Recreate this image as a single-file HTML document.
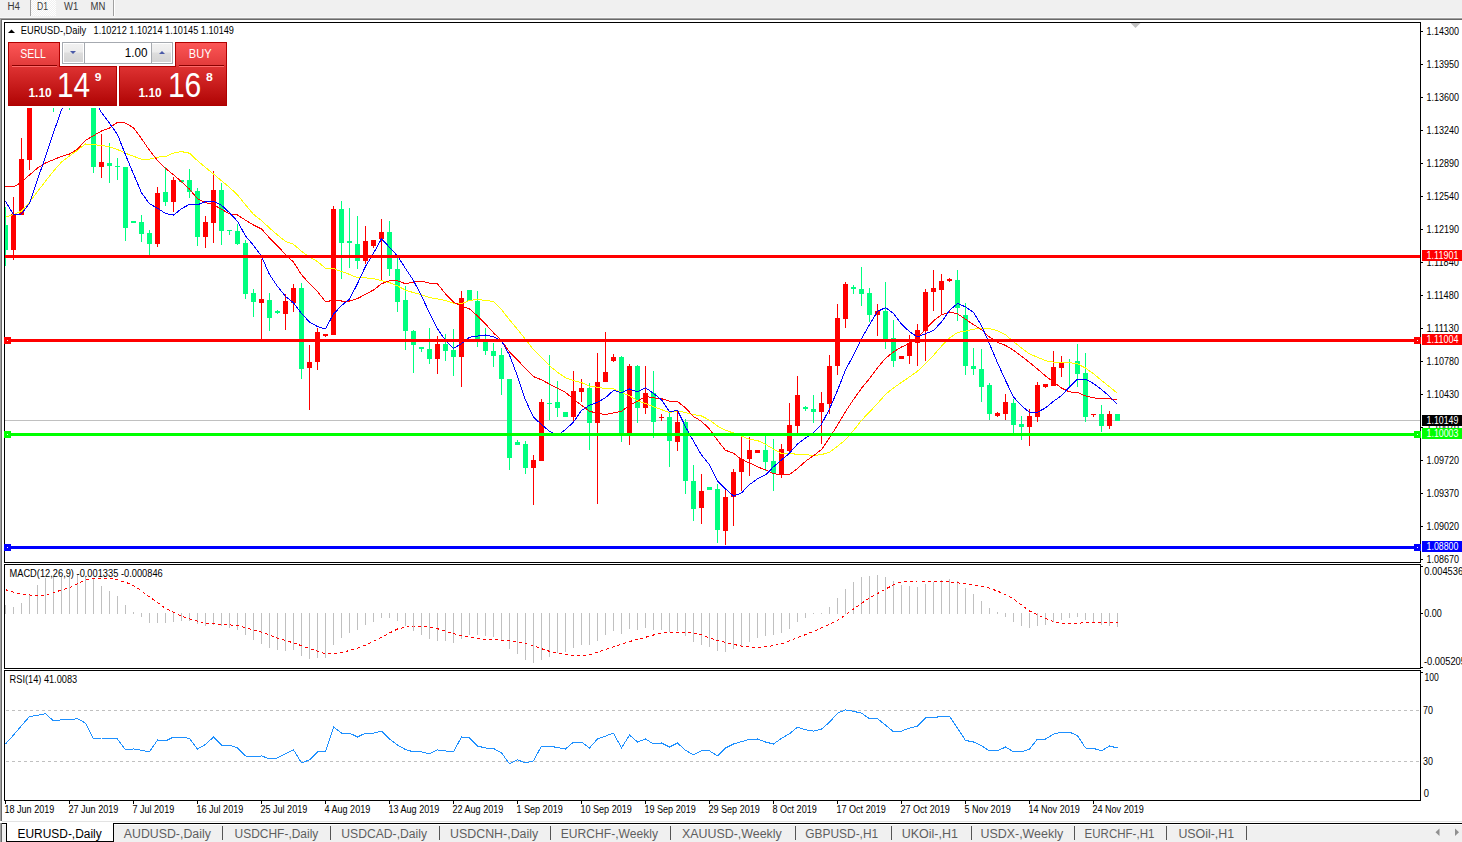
<!DOCTYPE html>
<html><head><meta charset="utf-8"><title>EURUSD-,Daily</title><style>html,body{margin:0;padding:0;background:#fff;width:1462px;height:842px;overflow:hidden}text{white-space:pre}</style></head><body>
<svg width="1462" height="842" viewBox="0 0 1462 842" font-family='"Liberation Sans", Arial, sans-serif' shape-rendering="crispEdges" style="display:block">
<defs>
<clipPath id="cpMain"><rect x="5" y="23" width="1415" height="539"/></clipPath>
<clipPath id="cpMacd"><rect x="5" y="565" width="1415" height="103"/></clipPath>
<clipPath id="cpRsi"><rect x="5" y="671" width="1415" height="129"/></clipPath>
<linearGradient id="gTab" gradientUnits="userSpaceOnUse" x1="0" y1="43" x2="0" y2="65"><stop offset="0" stop-color="#fc5656"/><stop offset="1" stop-color="#e33b3b"/></linearGradient>
<linearGradient id="gPanel" gradientUnits="userSpaceOnUse" x1="0" y1="66" x2="0" y2="105"><stop offset="0" stop-color="#df3333"/><stop offset="1" stop-color="#b00404"/></linearGradient>
<linearGradient id="gBtn" x1="0" y1="0" x2="0" y2="1"><stop offset="0" stop-color="#f2f2f2"/><stop offset="0.45" stop-color="#ebebeb"/><stop offset="0.5" stop-color="#dddddd"/><stop offset="1" stop-color="#d4d4d4"/></linearGradient>
<pattern id="pDot" width="2" height="2" patternUnits="userSpaceOnUse"><rect width="2" height="2" fill="#f0f0f0"/><rect width="1" height="1" fill="#ffffff"/><rect x="1" y="1" width="1" height="1" fill="#ffffff"/></pattern>
</defs>
<rect x="0" y="0" width="1462" height="842" fill="#ffffff"/>
<rect x="0" y="0" width="1462" height="17" fill="#f0f0f0"/>
<rect x="0" y="17" width="1462" height="1" fill="#f7f7f7"/>
<rect x="0" y="18" width="1462" height="1" fill="#a0a0a0"/>
<rect x="0" y="19" width="1462" height="1" fill="#696969"/>
<rect x="31" y="0" width="25" height="16" fill="url(#pDot)"/>
<rect x="30" y="0" width="1" height="16" fill="#a0a0a0"/>
<rect x="113" y="0" width="1" height="16" fill="#a0a0a0"/>
<rect x="114" y="0" width="1" height="16" fill="#ffffff"/>
<text x="7.50" y="10" font-size="10" fill="#3a3a3a" font-weight="normal" textLength="12.48" lengthAdjust="spacingAndGlyphs">H4</text>
<text x="37.00" y="10" font-size="10" fill="#3a3a3a" font-weight="normal" textLength="10.99" lengthAdjust="spacingAndGlyphs">D1</text>
<text x="64.00" y="10" font-size="10" fill="#3a3a3a" font-weight="normal" textLength="14.20" lengthAdjust="spacingAndGlyphs">W1</text>
<text x="90.50" y="10" font-size="10" fill="#3a3a3a" font-weight="normal" textLength="14.80" lengthAdjust="spacingAndGlyphs">MN</text>
<rect x="0" y="18" width="1" height="803" fill="#a0a0a0"/>
<rect x="1" y="19" width="1" height="802" fill="#696969"/>
<g fill="none" stroke="#000" stroke-width="1">
<rect x="4.5" y="22.5" width="1416" height="540"/>
<rect x="4.5" y="564.5" width="1416" height="104"/>
<rect x="4.5" y="670.5" width="1416" height="130"/>
</g>
<g clip-path="url(#cpMain)">
<rect x="5" y="420" width="1415" height="1" fill="#c0c0c0"/>
<rect x="5" y="207" width="1" height="59" fill="#00ff7f"/>
<rect x="5" y="225" width="3" height="25" fill="#00ff7f"/>
<rect x="13" y="197" width="1" height="63" fill="#ff0000"/>
<rect x="11" y="214" width="5" height="36" fill="#ff0000"/>
<rect x="21" y="138" width="1" height="77" fill="#ff0000"/>
<rect x="19" y="159" width="5" height="56" fill="#ff0000"/>
<rect x="29" y="60" width="1" height="110" fill="#ff0000"/>
<rect x="27" y="80" width="5" height="80" fill="#ff0000"/>
<rect x="53" y="60" width="1" height="52" fill="#00ff7f"/>
<rect x="51" y="70" width="5" height="20" fill="#00ff7f"/>
<rect x="69" y="60" width="1" height="50" fill="#00ff7f"/>
<rect x="67" y="70" width="5" height="20" fill="#00ff7f"/>
<rect x="93" y="95" width="1" height="78" fill="#00ff7f"/>
<rect x="91" y="100" width="5" height="67" fill="#00ff7f"/>
<rect x="101" y="134" width="1" height="44" fill="#ff0000"/>
<rect x="99" y="162" width="5" height="5" fill="#ff0000"/>
<rect x="109" y="143" width="1" height="40" fill="#00ff7f"/>
<rect x="107" y="163" width="5" height="3" fill="#00ff7f"/>
<rect x="117" y="158" width="1" height="22" fill="#00ff7f"/>
<rect x="115" y="166" width="5" height="1" fill="#00ff7f"/>
<rect x="125" y="167" width="1" height="74" fill="#00ff7f"/>
<rect x="123" y="167" width="5" height="61" fill="#00ff7f"/>
<rect x="133" y="221" width="1" height="2" fill="#00ff7f"/>
<rect x="131" y="221" width="5" height="2" fill="#00ff7f"/>
<rect x="141" y="215" width="1" height="27" fill="#00ff7f"/>
<rect x="139" y="222" width="5" height="12" fill="#00ff7f"/>
<rect x="149" y="230" width="1" height="25" fill="#00ff7f"/>
<rect x="147" y="233" width="5" height="11" fill="#00ff7f"/>
<rect x="157" y="187" width="1" height="60" fill="#ff0000"/>
<rect x="155" y="193" width="5" height="51" fill="#ff0000"/>
<rect x="165" y="167" width="1" height="39" fill="#00ff7f"/>
<rect x="163" y="192" width="5" height="10" fill="#00ff7f"/>
<rect x="173" y="177" width="1" height="35" fill="#ff0000"/>
<rect x="171" y="180" width="5" height="22" fill="#ff0000"/>
<rect x="181" y="180" width="1" height="3" fill="#00ff7f"/>
<rect x="179" y="180" width="5" height="2" fill="#00ff7f"/>
<rect x="189" y="169" width="1" height="29" fill="#00ff7f"/>
<rect x="187" y="180" width="5" height="12" fill="#00ff7f"/>
<rect x="197" y="188" width="1" height="58" fill="#00ff7f"/>
<rect x="195" y="191" width="5" height="46" fill="#00ff7f"/>
<rect x="205" y="216" width="1" height="32" fill="#ff0000"/>
<rect x="203" y="222" width="5" height="15" fill="#ff0000"/>
<rect x="213" y="171" width="1" height="72" fill="#ff0000"/>
<rect x="211" y="190" width="5" height="33" fill="#ff0000"/>
<rect x="221" y="183" width="1" height="62" fill="#00ff7f"/>
<rect x="219" y="190" width="5" height="41" fill="#00ff7f"/>
<rect x="229" y="230" width="1" height="5" fill="#00ff7f"/>
<rect x="227" y="230" width="5" height="1" fill="#00ff7f"/>
<rect x="237" y="224" width="1" height="21" fill="#00ff7f"/>
<rect x="235" y="231" width="5" height="13" fill="#00ff7f"/>
<rect x="245" y="240" width="1" height="59" fill="#00ff7f"/>
<rect x="243" y="243" width="5" height="51" fill="#00ff7f"/>
<rect x="253" y="289" width="1" height="28" fill="#00ff7f"/>
<rect x="251" y="293" width="5" height="9" fill="#00ff7f"/>
<rect x="261" y="259" width="1" height="80" fill="#ff0000"/>
<rect x="259" y="299" width="5" height="4" fill="#ff0000"/>
<rect x="269" y="293" width="1" height="38" fill="#00ff7f"/>
<rect x="267" y="300" width="5" height="18" fill="#00ff7f"/>
<rect x="277" y="310" width="1" height="4" fill="#00ff7f"/>
<rect x="275" y="311" width="5" height="2" fill="#00ff7f"/>
<rect x="285" y="294" width="1" height="36" fill="#ff0000"/>
<rect x="283" y="301" width="5" height="13" fill="#ff0000"/>
<rect x="293" y="284" width="1" height="28" fill="#ff0000"/>
<rect x="291" y="288" width="5" height="15" fill="#ff0000"/>
<rect x="301" y="283" width="1" height="96" fill="#00ff7f"/>
<rect x="299" y="288" width="5" height="81" fill="#00ff7f"/>
<rect x="309" y="345" width="1" height="65" fill="#ff0000"/>
<rect x="307" y="362" width="5" height="6" fill="#ff0000"/>
<rect x="317" y="328" width="1" height="42" fill="#ff0000"/>
<rect x="315" y="332" width="5" height="30" fill="#ff0000"/>
<rect x="325" y="334" width="1" height="3" fill="#ff0000"/>
<rect x="323" y="334" width="5" height="2" fill="#ff0000"/>
<rect x="333" y="206" width="1" height="129" fill="#ff0000"/>
<rect x="331" y="209" width="5" height="126" fill="#ff0000"/>
<rect x="341" y="201" width="1" height="78" fill="#00ff7f"/>
<rect x="339" y="209" width="5" height="34" fill="#00ff7f"/>
<rect x="349" y="208" width="1" height="60" fill="#00ff7f"/>
<rect x="347" y="241" width="5" height="2" fill="#00ff7f"/>
<rect x="357" y="216" width="1" height="53" fill="#00ff7f"/>
<rect x="355" y="244" width="5" height="17" fill="#00ff7f"/>
<rect x="365" y="226" width="1" height="38" fill="#ff0000"/>
<rect x="363" y="241" width="5" height="20" fill="#ff0000"/>
<rect x="373" y="240" width="1" height="8" fill="#ff0000"/>
<rect x="371" y="240" width="5" height="6" fill="#ff0000"/>
<rect x="381" y="219" width="1" height="62" fill="#ff0000"/>
<rect x="379" y="232" width="5" height="7" fill="#ff0000"/>
<rect x="389" y="221" width="1" height="55" fill="#00ff7f"/>
<rect x="387" y="232" width="5" height="37" fill="#00ff7f"/>
<rect x="397" y="257" width="1" height="55" fill="#00ff7f"/>
<rect x="395" y="269" width="5" height="33" fill="#00ff7f"/>
<rect x="405" y="286" width="1" height="64" fill="#00ff7f"/>
<rect x="403" y="300" width="5" height="31" fill="#00ff7f"/>
<rect x="413" y="330" width="1" height="43" fill="#00ff7f"/>
<rect x="411" y="331" width="5" height="14" fill="#00ff7f"/>
<rect x="421" y="347" width="1" height="5" fill="#00ff7f"/>
<rect x="419" y="347" width="5" height="2" fill="#00ff7f"/>
<rect x="429" y="328" width="1" height="36" fill="#00ff7f"/>
<rect x="427" y="349" width="5" height="10" fill="#00ff7f"/>
<rect x="437" y="336" width="1" height="38" fill="#ff0000"/>
<rect x="435" y="344" width="5" height="15" fill="#ff0000"/>
<rect x="445" y="334" width="1" height="27" fill="#00ff7f"/>
<rect x="443" y="344" width="5" height="7" fill="#00ff7f"/>
<rect x="453" y="329" width="1" height="47" fill="#00ff7f"/>
<rect x="451" y="350" width="5" height="7" fill="#00ff7f"/>
<rect x="461" y="291" width="1" height="96" fill="#ff0000"/>
<rect x="459" y="298" width="5" height="59" fill="#ff0000"/>
<rect x="469" y="290" width="1" height="11" fill="#00ff7f"/>
<rect x="467" y="290" width="5" height="11" fill="#00ff7f"/>
<rect x="477" y="291" width="1" height="56" fill="#00ff7f"/>
<rect x="475" y="301" width="5" height="39" fill="#00ff7f"/>
<rect x="485" y="328" width="1" height="27" fill="#00ff7f"/>
<rect x="483" y="342" width="5" height="9" fill="#00ff7f"/>
<rect x="493" y="343" width="1" height="24" fill="#00ff7f"/>
<rect x="491" y="351" width="5" height="5" fill="#00ff7f"/>
<rect x="501" y="348" width="1" height="47" fill="#00ff7f"/>
<rect x="499" y="355" width="5" height="24" fill="#00ff7f"/>
<rect x="509" y="379" width="1" height="91" fill="#00ff7f"/>
<rect x="507" y="379" width="5" height="79" fill="#00ff7f"/>
<rect x="517" y="440" width="1" height="5" fill="#00ff7f"/>
<rect x="515" y="442" width="5" height="3" fill="#00ff7f"/>
<rect x="525" y="441" width="1" height="33" fill="#00ff7f"/>
<rect x="523" y="444" width="5" height="24" fill="#00ff7f"/>
<rect x="533" y="455" width="1" height="50" fill="#ff0000"/>
<rect x="531" y="460" width="5" height="8" fill="#ff0000"/>
<rect x="541" y="399" width="1" height="62" fill="#ff0000"/>
<rect x="539" y="402" width="5" height="59" fill="#ff0000"/>
<rect x="549" y="355" width="1" height="65" fill="#00ff7f"/>
<rect x="547" y="403" width="5" height="1" fill="#00ff7f"/>
<rect x="557" y="381" width="1" height="36" fill="#00ff7f"/>
<rect x="555" y="402" width="5" height="6" fill="#00ff7f"/>
<rect x="565" y="412" width="1" height="5" fill="#00ff7f"/>
<rect x="563" y="412" width="5" height="5" fill="#00ff7f"/>
<rect x="573" y="371" width="1" height="50" fill="#ff0000"/>
<rect x="571" y="391" width="5" height="26" fill="#ff0000"/>
<rect x="581" y="379" width="1" height="23" fill="#ff0000"/>
<rect x="579" y="388" width="5" height="4" fill="#ff0000"/>
<rect x="589" y="383" width="1" height="67" fill="#00ff7f"/>
<rect x="587" y="388" width="5" height="35" fill="#00ff7f"/>
<rect x="597" y="353" width="1" height="151" fill="#ff0000"/>
<rect x="595" y="382" width="5" height="41" fill="#ff0000"/>
<rect x="605" y="332" width="1" height="50" fill="#ff0000"/>
<rect x="603" y="372" width="5" height="10" fill="#ff0000"/>
<rect x="613" y="354" width="1" height="8" fill="#ff0000"/>
<rect x="611" y="357" width="5" height="4" fill="#ff0000"/>
<rect x="621" y="356" width="1" height="86" fill="#00ff7f"/>
<rect x="619" y="357" width="5" height="76" fill="#00ff7f"/>
<rect x="629" y="364" width="1" height="81" fill="#ff0000"/>
<rect x="627" y="366" width="5" height="67" fill="#ff0000"/>
<rect x="637" y="365" width="1" height="58" fill="#00ff7f"/>
<rect x="635" y="366" width="5" height="42" fill="#00ff7f"/>
<rect x="645" y="366" width="1" height="48" fill="#ff0000"/>
<rect x="643" y="393" width="5" height="15" fill="#ff0000"/>
<rect x="653" y="371" width="1" height="67" fill="#00ff7f"/>
<rect x="651" y="393" width="5" height="29" fill="#00ff7f"/>
<rect x="661" y="414" width="1" height="7" fill="#ff0000"/>
<rect x="659" y="417" width="5" height="1" fill="#ff0000"/>
<rect x="669" y="413" width="1" height="54" fill="#00ff7f"/>
<rect x="667" y="417" width="5" height="24" fill="#00ff7f"/>
<rect x="677" y="411" width="1" height="40" fill="#ff0000"/>
<rect x="675" y="422" width="5" height="20" fill="#ff0000"/>
<rect x="685" y="419" width="1" height="75" fill="#00ff7f"/>
<rect x="683" y="422" width="5" height="59" fill="#00ff7f"/>
<rect x="693" y="465" width="1" height="56" fill="#00ff7f"/>
<rect x="691" y="481" width="5" height="28" fill="#00ff7f"/>
<rect x="701" y="474" width="1" height="50" fill="#ff0000"/>
<rect x="699" y="491" width="5" height="17" fill="#ff0000"/>
<rect x="709" y="487" width="1" height="3" fill="#00ff7f"/>
<rect x="707" y="487" width="5" height="3" fill="#00ff7f"/>
<rect x="717" y="484" width="1" height="59" fill="#00ff7f"/>
<rect x="715" y="489" width="5" height="41" fill="#00ff7f"/>
<rect x="725" y="490" width="1" height="55" fill="#ff0000"/>
<rect x="723" y="497" width="5" height="34" fill="#ff0000"/>
<rect x="733" y="469" width="1" height="57" fill="#ff0000"/>
<rect x="731" y="472" width="5" height="25" fill="#ff0000"/>
<rect x="741" y="436" width="1" height="55" fill="#ff0000"/>
<rect x="739" y="459" width="5" height="13" fill="#ff0000"/>
<rect x="749" y="437" width="1" height="39" fill="#ff0000"/>
<rect x="747" y="450" width="5" height="9" fill="#ff0000"/>
<rect x="757" y="450" width="1" height="3" fill="#ff0000"/>
<rect x="755" y="450" width="5" height="3" fill="#ff0000"/>
<rect x="765" y="436" width="1" height="35" fill="#00ff7f"/>
<rect x="763" y="450" width="5" height="12" fill="#00ff7f"/>
<rect x="773" y="439" width="1" height="52" fill="#00ff7f"/>
<rect x="771" y="461" width="5" height="12" fill="#00ff7f"/>
<rect x="781" y="444" width="1" height="34" fill="#ff0000"/>
<rect x="779" y="449" width="5" height="25" fill="#ff0000"/>
<rect x="789" y="403" width="1" height="51" fill="#ff0000"/>
<rect x="787" y="425" width="5" height="26" fill="#ff0000"/>
<rect x="797" y="376" width="1" height="57" fill="#ff0000"/>
<rect x="795" y="395" width="5" height="31" fill="#ff0000"/>
<rect x="805" y="406" width="1" height="5" fill="#00ff7f"/>
<rect x="803" y="407" width="5" height="2" fill="#00ff7f"/>
<rect x="813" y="395" width="1" height="28" fill="#00ff7f"/>
<rect x="811" y="409" width="5" height="3" fill="#00ff7f"/>
<rect x="821" y="392" width="1" height="52" fill="#ff0000"/>
<rect x="819" y="403" width="5" height="9" fill="#ff0000"/>
<rect x="829" y="355" width="1" height="59" fill="#ff0000"/>
<rect x="827" y="366" width="5" height="38" fill="#ff0000"/>
<rect x="837" y="304" width="1" height="71" fill="#ff0000"/>
<rect x="835" y="318" width="5" height="48" fill="#ff0000"/>
<rect x="845" y="282" width="1" height="46" fill="#ff0000"/>
<rect x="843" y="284" width="5" height="35" fill="#ff0000"/>
<rect x="853" y="285" width="1" height="9" fill="#00ff7f"/>
<rect x="851" y="287" width="5" height="2" fill="#00ff7f"/>
<rect x="861" y="267" width="1" height="39" fill="#00ff7f"/>
<rect x="859" y="289" width="5" height="5" fill="#00ff7f"/>
<rect x="869" y="288" width="1" height="34" fill="#00ff7f"/>
<rect x="867" y="293" width="5" height="22" fill="#00ff7f"/>
<rect x="877" y="304" width="1" height="32" fill="#ff0000"/>
<rect x="875" y="311" width="5" height="4" fill="#ff0000"/>
<rect x="885" y="282" width="1" height="67" fill="#00ff7f"/>
<rect x="883" y="311" width="5" height="28" fill="#00ff7f"/>
<rect x="893" y="320" width="1" height="47" fill="#00ff7f"/>
<rect x="891" y="338" width="5" height="23" fill="#00ff7f"/>
<rect x="901" y="356" width="1" height="3" fill="#ff0000"/>
<rect x="899" y="356" width="5" height="3" fill="#ff0000"/>
<rect x="909" y="335" width="1" height="29" fill="#ff0000"/>
<rect x="907" y="343" width="5" height="13" fill="#ff0000"/>
<rect x="917" y="324" width="1" height="42" fill="#ff0000"/>
<rect x="915" y="330" width="5" height="13" fill="#ff0000"/>
<rect x="925" y="289" width="1" height="72" fill="#ff0000"/>
<rect x="923" y="292" width="5" height="39" fill="#ff0000"/>
<rect x="933" y="270" width="1" height="41" fill="#ff0000"/>
<rect x="931" y="288" width="5" height="4" fill="#ff0000"/>
<rect x="941" y="274" width="1" height="40" fill="#ff0000"/>
<rect x="939" y="281" width="5" height="9" fill="#ff0000"/>
<rect x="949" y="278" width="1" height="4" fill="#ff0000"/>
<rect x="947" y="279" width="5" height="2" fill="#ff0000"/>
<rect x="957" y="270" width="1" height="51" fill="#00ff7f"/>
<rect x="955" y="280" width="5" height="28" fill="#00ff7f"/>
<rect x="965" y="303" width="1" height="72" fill="#00ff7f"/>
<rect x="963" y="315" width="5" height="51" fill="#00ff7f"/>
<rect x="973" y="348" width="1" height="27" fill="#00ff7f"/>
<rect x="971" y="366" width="5" height="3" fill="#00ff7f"/>
<rect x="981" y="349" width="1" height="53" fill="#00ff7f"/>
<rect x="979" y="369" width="5" height="18" fill="#00ff7f"/>
<rect x="989" y="383" width="1" height="37" fill="#00ff7f"/>
<rect x="987" y="385" width="5" height="29" fill="#00ff7f"/>
<rect x="997" y="412" width="1" height="5" fill="#ff0000"/>
<rect x="995" y="413" width="5" height="3" fill="#ff0000"/>
<rect x="1005" y="394" width="1" height="26" fill="#ff0000"/>
<rect x="1003" y="402" width="5" height="12" fill="#ff0000"/>
<rect x="1013" y="399" width="1" height="34" fill="#00ff7f"/>
<rect x="1011" y="403" width="5" height="22" fill="#00ff7f"/>
<rect x="1021" y="416" width="1" height="24" fill="#00ff7f"/>
<rect x="1019" y="424" width="5" height="3" fill="#00ff7f"/>
<rect x="1029" y="409" width="1" height="37" fill="#ff0000"/>
<rect x="1027" y="416" width="5" height="11" fill="#ff0000"/>
<rect x="1037" y="382" width="1" height="40" fill="#ff0000"/>
<rect x="1035" y="385" width="5" height="32" fill="#ff0000"/>
<rect x="1045" y="384" width="1" height="4" fill="#ff0000"/>
<rect x="1043" y="384" width="5" height="3" fill="#ff0000"/>
<rect x="1053" y="351" width="1" height="35" fill="#ff0000"/>
<rect x="1051" y="367" width="5" height="19" fill="#ff0000"/>
<rect x="1061" y="356" width="1" height="21" fill="#ff0000"/>
<rect x="1059" y="363" width="5" height="5" fill="#ff0000"/>
<rect x="1069" y="359" width="1" height="27" fill="#00ff7f"/>
<rect x="1067" y="362" width="5" height="1" fill="#00ff7f"/>
<rect x="1077" y="344" width="1" height="43" fill="#00ff7f"/>
<rect x="1075" y="361" width="5" height="13" fill="#00ff7f"/>
<rect x="1085" y="353" width="1" height="69" fill="#00ff7f"/>
<rect x="1083" y="373" width="5" height="44" fill="#00ff7f"/>
<rect x="1093" y="414" width="1" height="3" fill="#ff0000"/>
<rect x="1091" y="414" width="5" height="1" fill="#ff0000"/>
<rect x="1101" y="405" width="1" height="27" fill="#00ff7f"/>
<rect x="1099" y="414" width="5" height="12" fill="#00ff7f"/>
<rect x="1109" y="411" width="1" height="18" fill="#ff0000"/>
<rect x="1107" y="414" width="5" height="12" fill="#ff0000"/>
<rect x="1117" y="414" width="1" height="7" fill="#00ff7f"/>
<rect x="1115" y="414" width="5" height="7" fill="#00ff7f"/>
<polyline points="5.5,217.3 13.5,214.5 21.5,211.2 29.5,202.2 37.5,191.6 45.5,181.1 53.5,171.2 61.5,162.0 69.5,155.9 77.5,150.2 85.5,144.0 93.5,144.6 101.5,145.5 109.5,146.7 117.5,149.5 125.5,153.2 133.5,156.3 141.5,159.1 149.5,159.1 157.5,157.1 165.5,156.5 173.5,153.1 181.5,151.6 189.5,153.2 197.5,160.7 205.5,167.4 213.5,174.0 221.5,180.7 229.5,187.4 237.5,194.9 245.5,204.8 253.5,214.3 261.5,220.6 269.5,228.0 277.5,235.0 285.5,241.4 293.5,244.3 301.5,251.3 309.5,257.3 317.5,261.5 325.5,268.2 333.5,268.6 341.5,271.5 349.5,274.4 357.5,277.7 365.5,277.9 373.5,278.7 381.5,280.7 389.5,282.6 397.5,285.9 405.5,290.1 413.5,292.6 421.5,294.8 429.5,297.6 437.5,298.8 445.5,300.6 453.5,303.3 461.5,303.7 469.5,300.5 477.5,299.5 485.5,300.4 493.5,301.4 501.5,309.6 509.5,319.8 517.5,329.4 525.5,339.3 533.5,349.7 541.5,357.5 549.5,365.7 557.5,372.3 565.5,377.8 573.5,380.6 581.5,382.6 589.5,386.1 597.5,387.3 605.5,388.6 613.5,388.9 621.5,392.5 629.5,395.7 637.5,400.8 645.5,403.4 653.5,406.7 661.5,409.6 669.5,412.6 677.5,410.9 685.5,412.6 693.5,414.5 701.5,416.0 709.5,420.1 717.5,426.1 725.5,430.3 733.5,433.0 741.5,436.2 749.5,439.2 757.5,440.5 765.5,444.3 773.5,449.1 781.5,453.5 789.5,453.2 797.5,454.5 805.5,454.6 813.5,455.5 821.5,454.6 829.5,452.2 837.5,446.3 845.5,439.8 853.5,430.6 861.5,420.4 869.5,412.0 877.5,403.5 885.5,394.4 893.5,387.9 901.5,382.4 909.5,376.9 917.5,371.2 925.5,363.6 933.5,355.3 941.5,346.2 949.5,338.1 957.5,332.5 965.5,331.1 973.5,329.3 981.5,328.1 989.5,328.6 997.5,330.8 1005.5,334.8 1013.5,341.5 1021.5,348.1 1029.5,353.9 1037.5,357.2 1045.5,360.7 1053.5,362.1 1061.5,362.2 1069.5,362.5 1077.5,363.9 1085.5,368.0 1093.5,373.8 1101.5,380.4 1109.5,386.8 1117.5,393.5" fill="none" stroke="#ffff00" stroke-width="1"/>
<polyline points="5.5,186.4 13.5,187.0 21.5,182.3 29.5,174.9 37.5,168.1 45.5,163.0 53.5,159.7 61.5,156.4 69.5,154.0 77.5,149.1 85.5,140.3 93.5,135.7 101.5,131.0 109.5,128.0 117.5,122.2 125.5,123.1 133.5,127.7 141.5,138.7 149.5,150.3 157.5,160.4 165.5,168.3 173.5,174.8 181.5,181.7 189.5,189.1 197.5,198.8 205.5,202.7 213.5,204.7 221.5,209.3 229.5,213.9 237.5,215.0 245.5,220.2 253.5,225.0 261.5,229.0 269.5,237.9 277.5,245.8 285.5,254.5 293.5,262.1 301.5,274.7 309.5,283.6 317.5,291.5 325.5,301.8 333.5,300.2 341.5,301.0 349.5,301.0 357.5,298.6 365.5,294.2 373.5,290.0 381.5,283.8 389.5,280.7 397.5,280.7 405.5,283.8 413.5,282.1 421.5,281.2 429.5,283.1 437.5,283.8 445.5,293.9 453.5,302.1 461.5,306.0 469.5,308.9 477.5,316.0 485.5,324.0 493.5,332.8 501.5,340.7 509.5,351.8 517.5,359.9 525.5,368.7 533.5,376.6 541.5,379.8 549.5,384.1 557.5,388.2 565.5,392.4 573.5,399.1 581.5,405.3 589.5,411.2 597.5,413.4 605.5,414.5 613.5,412.9 621.5,411.2 629.5,405.5 637.5,401.2 645.5,396.4 653.5,397.8 661.5,398.7 669.5,401.1 677.5,401.5 685.5,407.9 693.5,416.5 701.5,421.3 709.5,429.0 717.5,440.3 725.5,450.3 733.5,453.1 741.5,459.8 749.5,462.8 757.5,466.9 765.5,469.8 773.5,473.8 781.5,474.4 789.5,474.6 797.5,468.5 805.5,461.3 813.5,455.7 821.5,449.6 829.5,437.9 837.5,425.1 845.5,411.6 853.5,399.5 861.5,388.3 869.5,378.6 877.5,367.8 885.5,358.3 893.5,351.9 901.5,347.0 909.5,343.3 917.5,337.7 925.5,329.2 933.5,320.9 941.5,314.8 949.5,312.0 957.5,313.8 965.5,319.2 973.5,324.6 981.5,329.8 989.5,337.1 997.5,342.4 1005.5,345.4 1013.5,350.3 1021.5,356.3 1029.5,362.4 1037.5,369.0 1045.5,375.9 1053.5,382.1 1061.5,388.1 1069.5,391.9 1077.5,392.5 1085.5,395.9 1093.5,397.8 1101.5,398.7 1109.5,398.8 1117.5,400.1" fill="none" stroke="#ff0000" stroke-width="1"/>
<polyline points="5.5,201.5 13.5,214.5 21.5,214.0 29.5,203.2 37.5,179.5 45.5,156.7 53.5,132.7 61.5,109.8 69.5,91.5 77.5,81.4 85.5,84.5 93.5,96.9 101.5,112.6 109.5,123.3 117.5,134.5 125.5,154.8 133.5,174.0 141.5,192.8 149.5,203.8 157.5,208.2 165.5,213.4 173.5,215.1 181.5,208.7 189.5,204.3 197.5,204.8 205.5,201.6 213.5,201.2 221.5,205.3 229.5,212.7 237.5,221.4 245.5,236.0 253.5,245.3 261.5,256.3 269.5,274.6 277.5,286.4 285.5,296.4 293.5,302.8 301.5,313.5 309.5,322.0 317.5,326.6 325.5,328.9 333.5,314.0 341.5,305.6 349.5,299.1 357.5,283.6 365.5,266.4 373.5,253.3 381.5,238.7 389.5,247.4 397.5,255.9 405.5,268.4 413.5,280.6 421.5,296.0 429.5,312.9 437.5,328.9 445.5,340.5 453.5,348.4 461.5,343.6 469.5,337.3 477.5,336.1 485.5,335.0 493.5,336.7 501.5,340.8 509.5,355.2 517.5,376.2 525.5,400.1 533.5,417.2 541.5,424.5 549.5,431.4 557.5,435.5 565.5,429.6 573.5,422.0 581.5,410.5 589.5,405.2 597.5,402.3 605.5,397.7 613.5,390.4 621.5,392.7 629.5,389.0 637.5,391.9 645.5,387.7 653.5,393.4 661.5,399.8 669.5,411.8 677.5,410.3 685.5,426.7 693.5,441.1 701.5,455.0 709.5,464.7 717.5,480.8 725.5,488.9 733.5,496.0 741.5,492.9 749.5,484.6 757.5,478.9 765.5,474.9 773.5,466.8 781.5,459.9 789.5,453.2 797.5,444.0 805.5,438.1 813.5,432.6 821.5,424.2 829.5,409.0 837.5,390.3 845.5,370.1 853.5,355.0 861.5,338.6 869.5,324.7 877.5,311.4 885.5,307.6 893.5,313.6 901.5,324.0 909.5,331.7 917.5,336.9 925.5,333.7 933.5,330.4 941.5,322.1 949.5,310.4 957.5,303.5 965.5,306.8 973.5,312.4 981.5,325.8 989.5,343.9 997.5,362.8 1005.5,380.4 1013.5,397.0 1021.5,405.8 1029.5,412.5 1037.5,412.2 1045.5,407.9 1053.5,401.3 1061.5,395.7 1069.5,386.8 1077.5,379.2 1085.5,379.3 1093.5,383.5 1101.5,389.5 1109.5,396.2 1117.5,404.5" fill="none" stroke="#0000ff" stroke-width="1"/>
<rect x="5" y="255" width="1415" height="3" fill="#ff0000"/>
<rect x="5" y="339" width="1415" height="3" fill="#ff0000"/>
<rect x="5" y="433" width="1415" height="3" fill="#00ff00"/>
<rect x="5" y="546" width="1415" height="3" fill="#0000ff"/>
</g>
<g clip-path="url(#cpMacd)">
<rect x="5" y="605" width="1" height="9" fill="#c0c0c0"/>
<rect x="13" y="607" width="1" height="7" fill="#c0c0c0"/>
<rect x="21" y="603" width="1" height="11" fill="#c0c0c0"/>
<rect x="29" y="595" width="1" height="19" fill="#c0c0c0"/>
<rect x="37" y="585" width="1" height="29" fill="#c0c0c0"/>
<rect x="45" y="578" width="1" height="36" fill="#c0c0c0"/>
<rect x="53" y="577" width="1" height="37" fill="#c0c0c0"/>
<rect x="61" y="577" width="1" height="37" fill="#c0c0c0"/>
<rect x="69" y="577" width="1" height="37" fill="#c0c0c0"/>
<rect x="77" y="575" width="1" height="39" fill="#c0c0c0"/>
<rect x="85" y="576" width="1" height="38" fill="#c0c0c0"/>
<rect x="93" y="579" width="1" height="35" fill="#c0c0c0"/>
<rect x="101" y="586" width="1" height="28" fill="#c0c0c0"/>
<rect x="109" y="591" width="1" height="23" fill="#c0c0c0"/>
<rect x="117" y="596" width="1" height="18" fill="#c0c0c0"/>
<rect x="125" y="605" width="1" height="9" fill="#c0c0c0"/>
<rect x="133" y="612" width="1" height="2" fill="#c0c0c0"/>
<rect x="141" y="613" width="1" height="4" fill="#c0c0c0"/>
<rect x="149" y="613" width="1" height="10" fill="#c0c0c0"/>
<rect x="157" y="613" width="1" height="10" fill="#c0c0c0"/>
<rect x="165" y="613" width="1" height="10" fill="#c0c0c0"/>
<rect x="173" y="613" width="1" height="9" fill="#c0c0c0"/>
<rect x="181" y="613" width="1" height="8" fill="#c0c0c0"/>
<rect x="189" y="613" width="1" height="8" fill="#c0c0c0"/>
<rect x="197" y="613" width="1" height="11" fill="#c0c0c0"/>
<rect x="205" y="613" width="1" height="13" fill="#c0c0c0"/>
<rect x="213" y="613" width="1" height="12" fill="#c0c0c0"/>
<rect x="221" y="613" width="1" height="13" fill="#c0c0c0"/>
<rect x="229" y="613" width="1" height="15" fill="#c0c0c0"/>
<rect x="237" y="613" width="1" height="17" fill="#c0c0c0"/>
<rect x="245" y="613" width="1" height="22" fill="#c0c0c0"/>
<rect x="253" y="613" width="1" height="27" fill="#c0c0c0"/>
<rect x="261" y="613" width="1" height="31" fill="#c0c0c0"/>
<rect x="269" y="613" width="1" height="35" fill="#c0c0c0"/>
<rect x="277" y="613" width="1" height="37" fill="#c0c0c0"/>
<rect x="285" y="613" width="1" height="38" fill="#c0c0c0"/>
<rect x="293" y="613" width="1" height="37" fill="#c0c0c0"/>
<rect x="301" y="613" width="1" height="43" fill="#c0c0c0"/>
<rect x="309" y="613" width="1" height="46" fill="#c0c0c0"/>
<rect x="317" y="613" width="1" height="45" fill="#c0c0c0"/>
<rect x="325" y="613" width="1" height="45" fill="#c0c0c0"/>
<rect x="333" y="613" width="1" height="32" fill="#c0c0c0"/>
<rect x="341" y="613" width="1" height="25" fill="#c0c0c0"/>
<rect x="349" y="613" width="1" height="20" fill="#c0c0c0"/>
<rect x="357" y="613" width="1" height="17" fill="#c0c0c0"/>
<rect x="365" y="613" width="1" height="12" fill="#c0c0c0"/>
<rect x="373" y="613" width="1" height="9" fill="#c0c0c0"/>
<rect x="381" y="613" width="1" height="5" fill="#c0c0c0"/>
<rect x="389" y="613" width="1" height="5" fill="#c0c0c0"/>
<rect x="397" y="613" width="1" height="8" fill="#c0c0c0"/>
<rect x="405" y="613" width="1" height="13" fill="#c0c0c0"/>
<rect x="413" y="613" width="1" height="18" fill="#c0c0c0"/>
<rect x="421" y="613" width="1" height="22" fill="#c0c0c0"/>
<rect x="429" y="613" width="1" height="26" fill="#c0c0c0"/>
<rect x="437" y="613" width="1" height="28" fill="#c0c0c0"/>
<rect x="445" y="613" width="1" height="28" fill="#c0c0c0"/>
<rect x="453" y="613" width="1" height="30" fill="#c0c0c0"/>
<rect x="461" y="613" width="1" height="26" fill="#c0c0c0"/>
<rect x="469" y="613" width="1" height="22" fill="#c0c0c0"/>
<rect x="477" y="613" width="1" height="22" fill="#c0c0c0"/>
<rect x="485" y="613" width="1" height="23" fill="#c0c0c0"/>
<rect x="493" y="613" width="1" height="24" fill="#c0c0c0"/>
<rect x="501" y="613" width="1" height="28" fill="#c0c0c0"/>
<rect x="509" y="613" width="1" height="36" fill="#c0c0c0"/>
<rect x="517" y="613" width="1" height="41" fill="#c0c0c0"/>
<rect x="525" y="613" width="1" height="47" fill="#c0c0c0"/>
<rect x="533" y="613" width="1" height="50" fill="#c0c0c0"/>
<rect x="541" y="613" width="1" height="47" fill="#c0c0c0"/>
<rect x="549" y="613" width="1" height="44" fill="#c0c0c0"/>
<rect x="557" y="613" width="1" height="40" fill="#c0c0c0"/>
<rect x="565" y="613" width="1" height="39" fill="#c0c0c0"/>
<rect x="573" y="613" width="1" height="35" fill="#c0c0c0"/>
<rect x="581" y="613" width="1" height="32" fill="#c0c0c0"/>
<rect x="589" y="613" width="1" height="32" fill="#c0c0c0"/>
<rect x="597" y="613" width="1" height="28" fill="#c0c0c0"/>
<rect x="605" y="613" width="1" height="22" fill="#c0c0c0"/>
<rect x="613" y="613" width="1" height="18" fill="#c0c0c0"/>
<rect x="621" y="613" width="1" height="21" fill="#c0c0c0"/>
<rect x="629" y="613" width="1" height="16" fill="#c0c0c0"/>
<rect x="637" y="613" width="1" height="17" fill="#c0c0c0"/>
<rect x="645" y="613" width="1" height="15" fill="#c0c0c0"/>
<rect x="653" y="613" width="1" height="17" fill="#c0c0c0"/>
<rect x="661" y="613" width="1" height="17" fill="#c0c0c0"/>
<rect x="669" y="613" width="1" height="19" fill="#c0c0c0"/>
<rect x="677" y="613" width="1" height="18" fill="#c0c0c0"/>
<rect x="685" y="613" width="1" height="23" fill="#c0c0c0"/>
<rect x="693" y="613" width="1" height="29" fill="#c0c0c0"/>
<rect x="701" y="613" width="1" height="32" fill="#c0c0c0"/>
<rect x="709" y="613" width="1" height="34" fill="#c0c0c0"/>
<rect x="717" y="613" width="1" height="38" fill="#c0c0c0"/>
<rect x="725" y="613" width="1" height="39" fill="#c0c0c0"/>
<rect x="733" y="613" width="1" height="36" fill="#c0c0c0"/>
<rect x="741" y="613" width="1" height="33" fill="#c0c0c0"/>
<rect x="749" y="613" width="1" height="29" fill="#c0c0c0"/>
<rect x="757" y="613" width="1" height="25" fill="#c0c0c0"/>
<rect x="765" y="613" width="1" height="23" fill="#c0c0c0"/>
<rect x="773" y="613" width="1" height="22" fill="#c0c0c0"/>
<rect x="781" y="613" width="1" height="20" fill="#c0c0c0"/>
<rect x="789" y="613" width="1" height="16" fill="#c0c0c0"/>
<rect x="797" y="613" width="1" height="9" fill="#c0c0c0"/>
<rect x="805" y="613" width="1" height="5" fill="#c0c0c0"/>
<rect x="813" y="613" width="1" height="1" fill="#c0c0c0"/>
<rect x="821" y="613" width="1" height="1" fill="#c0c0c0"/>
<rect x="829" y="607" width="1" height="7" fill="#c0c0c0"/>
<rect x="837" y="598" width="1" height="16" fill="#c0c0c0"/>
<rect x="845" y="589" width="1" height="25" fill="#c0c0c0"/>
<rect x="853" y="582" width="1" height="32" fill="#c0c0c0"/>
<rect x="861" y="577" width="1" height="37" fill="#c0c0c0"/>
<rect x="869" y="576" width="1" height="38" fill="#c0c0c0"/>
<rect x="877" y="575" width="1" height="39" fill="#c0c0c0"/>
<rect x="885" y="577" width="1" height="37" fill="#c0c0c0"/>
<rect x="893" y="581" width="1" height="33" fill="#c0c0c0"/>
<rect x="901" y="585" width="1" height="29" fill="#c0c0c0"/>
<rect x="909" y="586" width="1" height="28" fill="#c0c0c0"/>
<rect x="917" y="587" width="1" height="27" fill="#c0c0c0"/>
<rect x="925" y="584" width="1" height="30" fill="#c0c0c0"/>
<rect x="933" y="582" width="1" height="32" fill="#c0c0c0"/>
<rect x="941" y="580" width="1" height="34" fill="#c0c0c0"/>
<rect x="949" y="579" width="1" height="35" fill="#c0c0c0"/>
<rect x="957" y="581" width="1" height="33" fill="#c0c0c0"/>
<rect x="965" y="588" width="1" height="26" fill="#c0c0c0"/>
<rect x="973" y="594" width="1" height="20" fill="#c0c0c0"/>
<rect x="981" y="601" width="1" height="13" fill="#c0c0c0"/>
<rect x="989" y="608" width="1" height="6" fill="#c0c0c0"/>
<rect x="997" y="612" width="1" height="2" fill="#c0c0c0"/>
<rect x="1005" y="613" width="1" height="4" fill="#c0c0c0"/>
<rect x="1013" y="613" width="1" height="9" fill="#c0c0c0"/>
<rect x="1021" y="613" width="1" height="13" fill="#c0c0c0"/>
<rect x="1029" y="613" width="1" height="15" fill="#c0c0c0"/>
<rect x="1037" y="613" width="1" height="13" fill="#c0c0c0"/>
<rect x="1045" y="613" width="1" height="12" fill="#c0c0c0"/>
<rect x="1053" y="613" width="1" height="9" fill="#c0c0c0"/>
<rect x="1061" y="613" width="1" height="7" fill="#c0c0c0"/>
<rect x="1069" y="613" width="1" height="5" fill="#c0c0c0"/>
<rect x="1077" y="613" width="1" height="4" fill="#c0c0c0"/>
<rect x="1085" y="613" width="1" height="7" fill="#c0c0c0"/>
<rect x="1093" y="613" width="1" height="9" fill="#c0c0c0"/>
<rect x="1101" y="613" width="1" height="12" fill="#c0c0c0"/>
<rect x="1109" y="613" width="1" height="13" fill="#c0c0c0"/>
<rect x="1117" y="613" width="1" height="14" fill="#c0c0c0"/>
<polyline points="5.5,589.7 13.5,592.2 21.5,594.4 29.5,595.0 37.5,595.6 45.5,595.1 53.5,592.8 61.5,589.9 69.5,587.8 77.5,583.9 85.5,579.9 93.5,578.2 101.5,578.0 109.5,578.3 117.5,579.9 125.5,582.2 133.5,585.5 141.5,590.9 149.5,596.9 157.5,602.7 165.5,608.3 173.5,612.3 181.5,616.0 189.5,618.9 197.5,621.1 205.5,623.1 213.5,623.8 221.5,624.4 229.5,624.9 237.5,625.5 245.5,627.6 253.5,629.9 261.5,632.2 269.5,635.0 277.5,638.2 285.5,640.5 293.5,642.9 301.5,645.7 309.5,648.5 317.5,651.2 325.5,653.8 333.5,653.8 341.5,652.5 349.5,650.5 357.5,648.1 365.5,645.1 373.5,641.4 381.5,637.2 389.5,633.0 397.5,629.0 405.5,627.3 413.5,626.0 421.5,626.0 429.5,627.1 437.5,628.7 445.5,631.2 453.5,633.6 461.5,635.6 469.5,637.3 477.5,638.7 485.5,639.3 493.5,639.8 501.5,640.2 509.5,640.8 517.5,641.8 525.5,643.6 533.5,645.6 541.5,648.7 549.5,651.3 557.5,653.2 565.5,654.2 573.5,655.3 581.5,655.4 589.5,654.9 597.5,652.2 605.5,649.4 613.5,646.7 621.5,644.1 629.5,641.5 637.5,639.5 645.5,637.3 653.5,635.0 661.5,633.3 669.5,632.0 677.5,632.0 685.5,632.3 693.5,633.3 701.5,634.8 709.5,637.9 717.5,640.4 725.5,642.4 733.5,644.3 741.5,646.2 749.5,647.1 757.5,647.7 765.5,646.9 773.5,645.5 781.5,643.8 789.5,640.8 797.5,637.7 805.5,634.6 813.5,631.4 821.5,627.9 829.5,624.4 837.5,620.1 845.5,615.1 853.5,609.1 861.5,603.4 869.5,597.8 877.5,593.6 885.5,589.1 893.5,584.9 901.5,581.6 909.5,581.1 917.5,581.0 925.5,581.0 933.5,581.8 941.5,581.8 949.5,581.8 957.5,582.8 965.5,583.8 973.5,584.7 981.5,586.1 989.5,588.1 997.5,591.1 1005.5,594.6 1013.5,599.0 1021.5,605.1 1029.5,611.0 1037.5,614.7 1045.5,618.4 1053.5,621.6 1061.5,623.2 1069.5,623.4 1077.5,623.4 1085.5,622.6 1093.5,622.6 1101.5,622.6 1109.5,622.6 1117.5,622.6" fill="none" stroke="#ff0000" stroke-width="1" stroke-dasharray="3,3"/>
</g>
<g clip-path="url(#cpRsi)">
<line x1="6" y1="710.5" x2="1420" y2="710.5" stroke="#c0c0c0" stroke-width="1" stroke-dasharray="3,3"/>
<line x1="6" y1="761.5" x2="1420" y2="761.5" stroke="#c0c0c0" stroke-width="1" stroke-dasharray="3,3"/>
<polyline points="5.5,744.0 13.5,735.1 21.5,725.7 29.5,716.6 37.5,715.2 45.5,713.8 53.5,720.8 61.5,719.8 69.5,719.8 77.5,718.6 85.5,723.2 93.5,739.0 101.5,738.0 109.5,738.0 117.5,739.0 125.5,749.9 133.5,749.0 141.5,750.3 149.5,751.9 157.5,740.0 165.5,741.0 173.5,737.0 181.5,737.0 189.5,738.4 197.5,749.0 205.5,744.4 213.5,737.0 221.5,745.0 229.5,745.0 237.5,748.0 245.5,755.9 253.5,756.9 261.5,755.9 269.5,758.9 277.5,757.9 285.5,753.7 293.5,749.9 301.5,762.8 309.5,759.9 317.5,751.9 325.5,751.9 333.5,727.1 341.5,733.1 349.5,733.1 357.5,737.0 365.5,733.1 373.5,733.1 381.5,731.1 389.5,739.0 397.5,745.0 405.5,749.5 413.5,751.9 421.5,751.9 429.5,753.9 437.5,749.9 445.5,750.9 453.5,751.9 461.5,737.0 469.5,738.0 477.5,746.0 485.5,748.0 493.5,748.4 501.5,752.9 509.5,763.8 517.5,759.9 525.5,762.8 533.5,760.9 541.5,746.0 549.5,746.0 557.5,747.6 565.5,749.0 573.5,742.0 581.5,742.0 589.5,748.0 597.5,739.0 605.5,736.1 613.5,733.1 621.5,748.0 629.5,735.1 637.5,742.0 645.5,739.0 653.5,744.0 661.5,743.0 669.5,747.0 677.5,743.0 685.5,750.3 693.5,754.9 701.5,750.9 709.5,750.9 717.5,755.9 725.5,748.0 733.5,744.0 741.5,741.6 749.5,739.4 757.5,739.0 765.5,742.0 773.5,744.0 781.5,738.4 789.5,733.7 797.5,727.1 805.5,729.7 813.5,731.1 821.5,729.1 829.5,722.2 837.5,713.2 845.5,709.9 853.5,711.3 861.5,713.2 869.5,718.6 877.5,718.6 885.5,725.1 893.5,731.7 901.5,731.1 909.5,728.1 917.5,726.1 925.5,717.8 933.5,717.8 941.5,716.2 949.5,716.2 957.5,728.1 965.5,740.4 973.5,742.0 981.5,745.6 989.5,750.9 997.5,750.9 1005.5,747.0 1013.5,751.9 1021.5,751.9 1029.5,749.0 1037.5,739.0 1045.5,739.0 1053.5,734.1 1061.5,732.1 1069.5,732.1 1077.5,735.7 1085.5,748.0 1093.5,748.4 1101.5,750.9 1109.5,746.0 1117.5,748.0" fill="none" stroke="#1e90ff" stroke-width="1"/>
</g>
<rect x="4" y="337" width="7" height="7" fill="#ff0000"/>
<rect x="7" y="340" width="1" height="1" fill="#ffffff"/>
<rect x="1414" y="337" width="7" height="7" fill="#ff0000"/>
<rect x="1417" y="340" width="1" height="1" fill="#ffffff"/>
<rect x="4" y="431" width="7" height="7" fill="#00ff00"/>
<rect x="7" y="434" width="1" height="1" fill="#ffffff"/>
<rect x="1414" y="431" width="7" height="7" fill="#00ff00"/>
<rect x="1417" y="434" width="1" height="1" fill="#ffffff"/>
<rect x="4" y="544" width="7" height="7" fill="#0000ff"/>
<rect x="7" y="547" width="1" height="1" fill="#ffffff"/>
<rect x="1414" y="544" width="7" height="7" fill="#0000ff"/>
<rect x="1417" y="547" width="1" height="1" fill="#ffffff"/>
<polygon points="1130.5,23 1140.5,23 1135.5,28" fill="#c0c0c0" shape-rendering="geometricPrecision"/>
<rect x="1421" y="31" width="2" height="1" fill="#000"/>
<text x="1426.40" y="35" font-size="10" fill="#000" font-weight="normal" textLength="32.50" lengthAdjust="spacingAndGlyphs">1.14300</text>
<rect x="1421" y="64" width="2" height="1" fill="#000"/>
<text x="1426.40" y="68" font-size="10" fill="#000" font-weight="normal" textLength="32.50" lengthAdjust="spacingAndGlyphs">1.13950</text>
<rect x="1421" y="97" width="2" height="1" fill="#000"/>
<text x="1426.40" y="101" font-size="10" fill="#000" font-weight="normal" textLength="32.50" lengthAdjust="spacingAndGlyphs">1.13600</text>
<rect x="1421" y="130" width="2" height="1" fill="#000"/>
<text x="1426.40" y="134" font-size="10" fill="#000" font-weight="normal" textLength="32.50" lengthAdjust="spacingAndGlyphs">1.13240</text>
<rect x="1421" y="163" width="2" height="1" fill="#000"/>
<text x="1426.40" y="167" font-size="10" fill="#000" font-weight="normal" textLength="32.50" lengthAdjust="spacingAndGlyphs">1.12890</text>
<rect x="1421" y="196" width="2" height="1" fill="#000"/>
<text x="1426.40" y="200" font-size="10" fill="#000" font-weight="normal" textLength="32.50" lengthAdjust="spacingAndGlyphs">1.12540</text>
<rect x="1421" y="229" width="2" height="1" fill="#000"/>
<text x="1426.40" y="233" font-size="10" fill="#000" font-weight="normal" textLength="32.50" lengthAdjust="spacingAndGlyphs">1.12190</text>
<rect x="1421" y="262" width="2" height="1" fill="#000"/>
<text x="1426.40" y="266" font-size="10" fill="#000" font-weight="normal" textLength="32.51" lengthAdjust="spacingAndGlyphs">1.11840</text>
<rect x="1421" y="295" width="2" height="1" fill="#000"/>
<text x="1426.40" y="299" font-size="10" fill="#000" font-weight="normal" textLength="32.51" lengthAdjust="spacingAndGlyphs">1.11480</text>
<rect x="1421" y="328" width="2" height="1" fill="#000"/>
<text x="1426.40" y="332" font-size="10" fill="#000" font-weight="normal" textLength="32.51" lengthAdjust="spacingAndGlyphs">1.11130</text>
<rect x="1421" y="361" width="2" height="1" fill="#000"/>
<text x="1426.40" y="365" font-size="10" fill="#000" font-weight="normal" textLength="32.50" lengthAdjust="spacingAndGlyphs">1.10780</text>
<rect x="1421" y="394" width="2" height="1" fill="#000"/>
<text x="1426.40" y="398" font-size="10" fill="#000" font-weight="normal" textLength="32.50" lengthAdjust="spacingAndGlyphs">1.10430</text>
<rect x="1421" y="427" width="2" height="1" fill="#000"/>
<text x="1426.40" y="431" font-size="10" fill="#000" font-weight="normal" textLength="32.50" lengthAdjust="spacingAndGlyphs">1.10070</text>
<rect x="1421" y="460" width="2" height="1" fill="#000"/>
<text x="1426.40" y="464" font-size="10" fill="#000" font-weight="normal" textLength="32.50" lengthAdjust="spacingAndGlyphs">1.09720</text>
<rect x="1421" y="493" width="2" height="1" fill="#000"/>
<text x="1426.40" y="497" font-size="10" fill="#000" font-weight="normal" textLength="32.50" lengthAdjust="spacingAndGlyphs">1.09370</text>
<rect x="1421" y="526" width="2" height="1" fill="#000"/>
<text x="1426.40" y="530" font-size="10" fill="#000" font-weight="normal" textLength="32.50" lengthAdjust="spacingAndGlyphs">1.09020</text>
<rect x="1421" y="559" width="2" height="1" fill="#000"/>
<text x="1426.40" y="563" font-size="10" fill="#000" font-weight="normal" textLength="32.50" lengthAdjust="spacingAndGlyphs">1.08670</text>
<rect x="1422" y="250" width="40" height="11" fill="#ff0000"/>
<text x="1426.60" y="259" font-size="10" fill="#ffffff" font-weight="normal" textLength="31.81" lengthAdjust="spacingAndGlyphs">1.11901</text>
<rect x="1422" y="334" width="40" height="11" fill="#ff0000"/>
<text x="1426.60" y="343" font-size="10" fill="#ffffff" font-weight="normal" textLength="31.81" lengthAdjust="spacingAndGlyphs">1.11004</text>
<rect x="1422" y="415" width="40" height="11" fill="#000000"/>
<text x="1426.60" y="424" font-size="10" fill="#ffffff" font-weight="normal" textLength="31.80" lengthAdjust="spacingAndGlyphs">1.10149</text>
<rect x="1422" y="428" width="40" height="11" fill="#00ff00"/>
<text x="1426.60" y="437" font-size="10" fill="#ffffff" font-weight="normal" textLength="31.80" lengthAdjust="spacingAndGlyphs">1.10003</text>
<rect x="1422" y="541" width="40" height="11" fill="#0000ff"/>
<text x="1426.60" y="550" font-size="10" fill="#ffffff" font-weight="normal" textLength="31.80" lengthAdjust="spacingAndGlyphs">1.08800</text>
<rect x="1421" y="566" width="2" height="1" fill="#000"/>
<rect x="1421" y="613" width="2" height="1" fill="#000"/>
<rect x="1421" y="667" width="2" height="1" fill="#000"/>
<text x="1424.20" y="575" font-size="10" fill="#000" font-weight="normal" textLength="39.00" lengthAdjust="spacingAndGlyphs">0.004536</text>
<text x="1424.20" y="617" font-size="10" fill="#000" font-weight="normal" textLength="17.51" lengthAdjust="spacingAndGlyphs">0.00</text>
<text x="1423.90" y="665" font-size="10" fill="#000" font-weight="normal" textLength="42.11" lengthAdjust="spacingAndGlyphs">-0.005205</text>
<rect x="1421" y="672" width="2" height="1" fill="#000"/>
<text x="1424.60" y="681" font-size="10" fill="#000" font-weight="normal" textLength="14.29" lengthAdjust="spacingAndGlyphs">100</text>
<text x="1423.10" y="714" font-size="10" fill="#000" font-weight="normal" textLength="9.92" lengthAdjust="spacingAndGlyphs">70</text>
<text x="1423.10" y="765" font-size="10" fill="#000" font-weight="normal" textLength="9.92" lengthAdjust="spacingAndGlyphs">30</text>
<text x="1423.70" y="797" font-size="10" fill="#000" font-weight="normal" textLength="5.21" lengthAdjust="spacingAndGlyphs">0</text>
<text x="9.50" y="577" font-size="10" fill="#000" font-weight="normal" textLength="153.21" lengthAdjust="spacingAndGlyphs">MACD(12,26,9) -0.001335 -0.000846</text>
<text x="9.60" y="683" font-size="10" fill="#000" font-weight="normal" textLength="67.58" lengthAdjust="spacingAndGlyphs">RSI(14) 41.0083</text>
<rect x="5" y="801" width="1" height="3" fill="#000"/>
<text x="4.40" y="813" font-size="10" fill="#000" font-weight="normal" textLength="49.93" lengthAdjust="spacingAndGlyphs">18 Jun 2019</text>
<rect x="69" y="801" width="1" height="3" fill="#000"/>
<text x="68.40" y="813" font-size="10" fill="#000" font-weight="normal" textLength="49.93" lengthAdjust="spacingAndGlyphs">27 Jun 2019</text>
<rect x="133" y="801" width="1" height="3" fill="#000"/>
<text x="132.40" y="813" font-size="10" fill="#000" font-weight="normal" textLength="41.86" lengthAdjust="spacingAndGlyphs">7 Jul 2019</text>
<rect x="197" y="801" width="1" height="3" fill="#000"/>
<text x="196.40" y="813" font-size="10" fill="#000" font-weight="normal" textLength="46.90" lengthAdjust="spacingAndGlyphs">16 Jul 2019</text>
<rect x="261" y="801" width="1" height="3" fill="#000"/>
<text x="260.40" y="813" font-size="10" fill="#000" font-weight="normal" textLength="46.90" lengthAdjust="spacingAndGlyphs">25 Jul 2019</text>
<rect x="325" y="801" width="1" height="3" fill="#000"/>
<text x="324.40" y="813" font-size="10" fill="#000" font-weight="normal" textLength="45.90" lengthAdjust="spacingAndGlyphs">4 Aug 2019</text>
<rect x="389" y="801" width="1" height="3" fill="#000"/>
<text x="388.40" y="813" font-size="10" fill="#000" font-weight="normal" textLength="50.95" lengthAdjust="spacingAndGlyphs">13 Aug 2019</text>
<rect x="453" y="801" width="1" height="3" fill="#000"/>
<text x="452.40" y="813" font-size="10" fill="#000" font-weight="normal" textLength="50.95" lengthAdjust="spacingAndGlyphs">22 Aug 2019</text>
<rect x="517" y="801" width="1" height="3" fill="#000"/>
<text x="516.40" y="813" font-size="10" fill="#000" font-weight="normal" textLength="46.40" lengthAdjust="spacingAndGlyphs">1 Sep 2019</text>
<rect x="581" y="801" width="1" height="3" fill="#000"/>
<text x="580.40" y="813" font-size="10" fill="#000" font-weight="normal" textLength="51.45" lengthAdjust="spacingAndGlyphs">10 Sep 2019</text>
<rect x="645" y="801" width="1" height="3" fill="#000"/>
<text x="644.40" y="813" font-size="10" fill="#000" font-weight="normal" textLength="51.45" lengthAdjust="spacingAndGlyphs">19 Sep 2019</text>
<rect x="709" y="801" width="1" height="3" fill="#000"/>
<text x="708.40" y="813" font-size="10" fill="#000" font-weight="normal" textLength="51.45" lengthAdjust="spacingAndGlyphs">29 Sep 2019</text>
<rect x="773" y="801" width="1" height="3" fill="#000"/>
<text x="772.40" y="813" font-size="10" fill="#000" font-weight="normal" textLength="44.37" lengthAdjust="spacingAndGlyphs">8 Oct 2019</text>
<rect x="837" y="801" width="1" height="3" fill="#000"/>
<text x="836.40" y="813" font-size="10" fill="#000" font-weight="normal" textLength="49.42" lengthAdjust="spacingAndGlyphs">17 Oct 2019</text>
<rect x="901" y="801" width="1" height="3" fill="#000"/>
<text x="900.40" y="813" font-size="10" fill="#000" font-weight="normal" textLength="49.42" lengthAdjust="spacingAndGlyphs">27 Oct 2019</text>
<rect x="965" y="801" width="1" height="3" fill="#000"/>
<text x="964.40" y="813" font-size="10" fill="#000" font-weight="normal" textLength="46.39" lengthAdjust="spacingAndGlyphs">5 Nov 2019</text>
<rect x="1029" y="801" width="1" height="3" fill="#000"/>
<text x="1028.40" y="813" font-size="10" fill="#000" font-weight="normal" textLength="51.44" lengthAdjust="spacingAndGlyphs">14 Nov 2019</text>
<rect x="1093" y="801" width="1" height="3" fill="#000"/>
<text x="1092.40" y="813" font-size="10" fill="#000" font-weight="normal" textLength="51.44" lengthAdjust="spacingAndGlyphs">24 Nov 2019</text>
<polygon points="8,33 15,33 11.5,29.5" fill="#000" shape-rendering="geometricPrecision"/>
<text x="20.80" y="34" font-size="10" fill="#000" font-weight="normal" textLength="65.41" lengthAdjust="spacingAndGlyphs">EURUSD-,Daily</text>
<text x="93.60" y="34" font-size="10" fill="#000" font-weight="normal" textLength="140.38" lengthAdjust="spacingAndGlyphs">1.10212 1.10214 1.10145 1.10149</text>
<rect x="5" y="36" width="224" height="72" fill="#ffffff"/>
<path d="M8.5,42.5 H59.5 V66.5 H116.5 V105.5 H8.5 Z" fill="url(#gPanel)" stroke="#b00000" stroke-width="1"/>
<rect x="9" y="43" width="50" height="22" fill="url(#gTab)"/>
<rect x="12" y="65" width="45" height="1" fill="#8a0000"/>
<rect x="12" y="66" width="45" height="1" fill="#ff6a6a"/>
<path d="M119.5,66.5 H175.5 V42.5 H226.5 V105.5 H119.5 Z" fill="url(#gPanel)" stroke="#b00000" stroke-width="1"/>
<rect x="176" y="43" width="50" height="22" fill="url(#gTab)"/>
<rect x="179" y="65" width="45" height="1" fill="#8a0000"/>
<rect x="179" y="66" width="45" height="1" fill="#ff6a6a"/>
<rect x="62.5" y="42.5" width="110" height="21" fill="#ffffff" stroke="#a6aab0" stroke-width="1"/>
<rect x="63.5" y="43.5" width="20" height="19" fill="url(#gBtn)" stroke="#ffffff" stroke-width="1"/>
<rect x="151.5" y="43.5" width="20" height="19" fill="url(#gBtn)" stroke="#ffffff" stroke-width="1"/>
<rect x="84" y="43" width="1" height="20" fill="#a6aab0"/>
<rect x="151" y="43" width="1" height="20" fill="#a6aab0"/>
<polygon points="70,51 76,51 73,54" fill="#4a5aa8" shape-rendering="geometricPrecision"/>
<polygon points="159,54 165,54 162,51" fill="#4a5aa8" shape-rendering="geometricPrecision"/>
<text x="124.70" y="57" font-size="12" fill="#000" font-weight="normal" textLength="22.72" lengthAdjust="spacingAndGlyphs">1.00</text>
<text x="20.20" y="58" font-size="12.5" fill="#ffffff" font-weight="normal" textLength="25.81" lengthAdjust="spacingAndGlyphs">SELL</text>
<text x="188.80" y="58" font-size="12.5" fill="#ffffff" font-weight="normal" textLength="22.71" lengthAdjust="spacingAndGlyphs">BUY</text>
<text x="28.50" y="97" font-size="12.5" fill="#ffffff" font-weight="bold" textLength="23.12" lengthAdjust="spacingAndGlyphs">1.10</text>
<text x="57.00" y="97" font-size="34.2" fill="#ffffff" font-weight="normal" textLength="33.07" lengthAdjust="spacingAndGlyphs">14</text>
<text x="94.80" y="81" font-size="11.3" fill="#ffffff" font-weight="bold" textLength="6.71" lengthAdjust="spacingAndGlyphs">9</text>
<text x="138.50" y="97" font-size="12.5" fill="#ffffff" font-weight="bold" textLength="23.12" lengthAdjust="spacingAndGlyphs">1.10</text>
<text x="167.90" y="97" font-size="34.2" fill="#ffffff" font-weight="normal" textLength="33.47" lengthAdjust="spacingAndGlyphs">16</text>
<text x="206.00" y="81" font-size="11.3" fill="#ffffff" font-weight="bold" textLength="6.81" lengthAdjust="spacingAndGlyphs">8</text>
<rect x="2" y="821" width="1460" height="1" fill="#e3e3e3"/>
<rect x="0" y="823" width="1462" height="19" fill="#f0f0f0"/>
<rect x="0" y="823" width="1462" height="1" fill="#000000"/>
<rect x="0" y="824" width="1462" height="1" fill="#ffffff"/>
<rect x="0" y="823" width="1" height="19" fill="#a0a0a0"/>
<rect x="1" y="823" width="1" height="19" fill="#696969"/>
<rect x="6" y="822" width="108" height="20" fill="#ffffff"/>
<rect x="6" y="823" width="1" height="19" fill="#000"/>
<rect x="113" y="823" width="1" height="19" fill="#000"/>
<rect x="6" y="841" width="108" height="1" fill="#000"/>
<text x="17.50" y="838" font-size="12.5" fill="#000" font-weight="normal" textLength="84.22" lengthAdjust="spacingAndGlyphs">EURUSD-,Daily</text>
<text x="123.80" y="838" font-size="12.5" fill="#5e5e5e" font-weight="normal" textLength="87.02" lengthAdjust="spacingAndGlyphs">AUDUSD-,Daily</text>
<rect x="222" y="826" width="1" height="14" fill="#555555"/>
<text x="234.60" y="838" font-size="12.5" fill="#5e5e5e" font-weight="normal" textLength="83.70" lengthAdjust="spacingAndGlyphs">USDCHF-,Daily</text>
<rect x="330" y="826" width="1" height="14" fill="#555555"/>
<text x="341.30" y="838" font-size="12.5" fill="#5e5e5e" font-weight="normal" textLength="85.72" lengthAdjust="spacingAndGlyphs">USDCAD-,Daily</text>
<rect x="439" y="826" width="1" height="14" fill="#555555"/>
<text x="450.00" y="838" font-size="12.5" fill="#5e5e5e" font-weight="normal" textLength="88.22" lengthAdjust="spacingAndGlyphs">USDCNH-,Daily</text>
<rect x="550" y="826" width="1" height="14" fill="#555555"/>
<text x="560.80" y="838" font-size="12.5" fill="#5e5e5e" font-weight="normal" textLength="97.17" lengthAdjust="spacingAndGlyphs">EURCHF-,Weekly</text>
<rect x="670" y="826" width="1" height="14" fill="#555555"/>
<text x="681.90" y="838" font-size="12.5" fill="#5e5e5e" font-weight="normal" textLength="99.89" lengthAdjust="spacingAndGlyphs">XAUUSD-,Weekly</text>
<rect x="795" y="826" width="1" height="14" fill="#555555"/>
<text x="805.30" y="838" font-size="12.5" fill="#5e5e5e" font-weight="normal" textLength="72.87" lengthAdjust="spacingAndGlyphs">GBPUSD-,H1</text>
<rect x="891" y="826" width="1" height="14" fill="#555555"/>
<text x="901.70" y="838" font-size="12.5" fill="#5e5e5e" font-weight="normal" textLength="56.31" lengthAdjust="spacingAndGlyphs">UKOil-,H1</text>
<rect x="971" y="826" width="1" height="14" fill="#555555"/>
<text x="980.40" y="838" font-size="12.5" fill="#5e5e5e" font-weight="normal" textLength="82.80" lengthAdjust="spacingAndGlyphs">USDX-,Weekly</text>
<rect x="1074" y="826" width="1" height="14" fill="#555555"/>
<text x="1084.60" y="838" font-size="12.5" fill="#5e5e5e" font-weight="normal" textLength="69.81" lengthAdjust="spacingAndGlyphs">EURCHF-,H1</text>
<rect x="1166" y="826" width="1" height="14" fill="#555555"/>
<text x="1178.40" y="838" font-size="12.5" fill="#5e5e5e" font-weight="normal" textLength="55.71" lengthAdjust="spacingAndGlyphs">USOil-,H1</text>
<rect x="1246" y="826" width="1" height="14" fill="#555555"/>
<polygon points="1439.5,828.5 1439.5,836 1435.5,832.25" fill="#909090" shape-rendering="geometricPrecision"/>
<polygon points="1455,828.5 1455,836 1459,832.25" fill="#909090" shape-rendering="geometricPrecision"/>
</svg>
</body></html>
